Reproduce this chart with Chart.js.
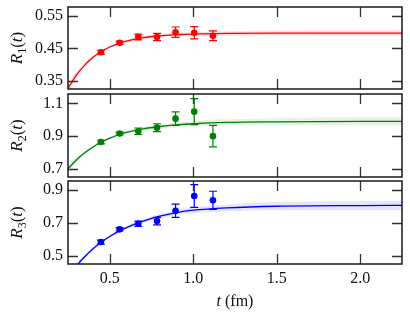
<!DOCTYPE html>
<html>
<head>
<meta charset="utf-8">
<script src="https://cdn.jsdelivr.net/npm/chart.js@4/dist/chart.umd.min.js"></script>
<style>
    html, body { margin: 0; padding: 0; background: #fff; }
    #wrap { position: relative; width: 410px; height: 320px; }
    .panel { position: absolute; left: 0; width: 410px; }
</style>
</head>
<body>
<div id="wrap">
    <div class="panel" style="top:0;height:92px"><canvas id="c1"></canvas></div>
    <div class="panel" style="top:88px;height:92px"><canvas id="c2"></canvas></div>
    <div class="panel" style="top:175px;height:145px"><canvas id="c3"></canvas></div>
</div>
<script>
// lattice data points (t in fm)
var tData = [0.447, 0.559, 0.671, 0.783, 0.894, 1.006, 1.118];
var r1 = [0.438, 0.467, 0.485, 0.485, 0.500, 0.498, 0.489];
var r1Err = [0.006, 0.005, 0.009, 0.011, 0.016, 0.019, 0.015];
var r2 = [0.863, 0.915, 0.929, 0.951, 1.006, 1.049, 0.899];
var r2Err = [0.011, 0.009, 0.020, 0.024, 0.041, 0.080, 0.066];
var r3 = [0.585, 0.662, 0.696, 0.712, 0.775, 0.864, 0.838];
var r3Err = [0.012, 0.010, 0.016, 0.023, 0.040, 0.069, 0.055];

// fit curves and half-width of the error bands
var tFit = [0.25, 0.30, 0.35, 0.40, 0.45, 0.50, 0.55, 0.60, 0.70, 0.80, 0.90, 1.00, 1.20, 1.50, 2.00, 2.25];
var r1Fit = [0.326, 0.367, 0.398, 0.422, 0.440, 0.454, 0.464, 0.472, 0.483, 0.489, 0.492, 0.494, 0.496, 0.497, 0.497, 0.497];
var r1Band = [0.014, 0.011, 0.008, 0.006, 0.005, 0.004, 0.004, 0.004, 0.005, 0.005, 0.006, 0.006, 0.007, 0.008, 0.009, 0.009];
var r2Fit = [0.700, 0.753, 0.797, 0.833, 0.863, 0.887, 0.906, 0.922, 0.944, 0.958, 0.968, 0.975, 0.983, 0.987, 0.990, 0.990];
var r2Band = [0.022, 0.016, 0.011, 0.008, 0.006, 0.006, 0.007, 0.008, 0.010, 0.012, 0.014, 0.016, 0.019, 0.022, 0.024, 0.025];
var r3Fit = [0.372, 0.440, 0.496, 0.544, 0.585, 0.619, 0.648, 0.673, 0.712, 0.742, 0.764, 0.778, 0.792, 0.802, 0.806, 0.807];
var r3Band = [0.022, 0.017, 0.012, 0.009, 0.007, 0.008, 0.009, 0.010, 0.012, 0.014, 0.016, 0.018, 0.021, 0.025, 0.028, 0.029];

var xTicks = [0.5, 1.0, 1.5, 2.0];
var xLabels = ["0.5", "1.0", "1.5", "2.0"];
var y1Ticks = [0.35, 0.45, 0.55], y1Labels = ["0.35", "0.45", "0.55"];
var y2Ticks = [0.7, 0.9, 1.1], y2Labels = ["0.7", "0.9", "1.1"];
var y3Ticks = [0.5, 0.7, 0.9], y3Labels = ["0.5", "0.7", "0.9"];

var SERIF = "'Liberation Serif', 'Times New Roman', serif";

function pts(xs, ys) {
    return xs.map(function (x, i) { return { x: x, y: ys[i] }; });
}
function shifted(ys, d, sign) {
    return ys.map(function (v, i) { return v + sign * d[i]; });
}

// inward tick marks, frame, error bars and axis titles
var decor = {
    id: "decor",
    afterDatasetsDraw: function (chart) {
        var o = chart.options.plugins.decor;
        var ctx = chart.ctx, a = chart.chartArea;
        var xs = chart.scales.x, ys = chart.scales.y;
        ctx.save();
        ctx.beginPath();
        ctx.rect(a.left, a.top, a.right - a.left, a.bottom - a.top);
        ctx.clip();
        ctx.strokeStyle = o.color;
        ctx.lineWidth = 1.2;
        o.ys.forEach(function (v, i) {
            var px = xs.getPixelForValue(o.xs[i]);
            var lo = ys.getPixelForValue(v - o.err[i]);
            var hi = ys.getPixelForValue(v + o.err[i]);
            ctx.beginPath();
            ctx.moveTo(px, lo); ctx.lineTo(px, hi);
            ctx.moveTo(px - 4, lo); ctx.lineTo(px + 4, lo);
            ctx.moveTo(px - 4, hi); ctx.lineTo(px + 4, hi);
            ctx.stroke();
        });
        ctx.restore();
    },
    afterDraw: function (chart) {
        var o = chart.options.plugins.decor;
        var ctx = chart.ctx, a = chart.chartArea;
        var xs = chart.scales.x, ys = chart.scales.y;
        ctx.save();
        ctx.strokeStyle = "#333";
        ctx.lineWidth = 1.3;
        ctx.beginPath();
        xTicks.forEach(function (v) {
            var px = Math.round(xs.getPixelForValue(v)) + 0.5;
            ctx.moveTo(px, a.top); ctx.lineTo(px, a.top + 10);
            ctx.moveTo(px, a.bottom); ctx.lineTo(px, a.bottom - 10);
        });
        o.yTicks.forEach(function (v) {
            var py = Math.round(ys.getPixelForValue(v)) + 0.5;
            ctx.moveTo(a.left, py); ctx.lineTo(a.left + 10, py);
            ctx.moveTo(a.right, py); ctx.lineTo(a.right - 10, py);
        });
        ctx.stroke();
        ctx.strokeStyle = "#1a1a1a";
        ctx.lineWidth = 1.5;
        ctx.strokeRect(a.left, a.top, a.right - a.left, a.bottom - a.top);

        // y title: R_n(t)
        ctx.fillStyle = "#111";
        ctx.translate(16, (a.top + a.bottom) / 2);
        ctx.rotate(-Math.PI / 2);
        var parts = [
            ["R", "italic 17px " + SERIF, 0],
            [o.sub, "12px " + SERIF, 4],
            ["(", "17px " + SERIF, 0],
            ["t", "italic 17px " + SERIF, 0],
            [")", "17px " + SERIF, 0]
        ];
        var w = 0;
        parts.forEach(function (p) { ctx.font = p[1]; w += ctx.measureText(p[0]).width; });
        var x = -w / 2;
        ctx.textBaseline = "alphabetic";
        parts.forEach(function (p) {
            ctx.font = p[1];
            ctx.fillText(p[0], x, 6 + p[2]);
            x += ctx.measureText(p[0]).width;
        });
        ctx.restore();

        if (o.xTitle) {
            ctx.save();
            ctx.fillStyle = "#111";
            ctx.textBaseline = "middle";
            var ty = a.bottom + 38;
            ctx.font = "italic 16px " + SERIF;
            var w1 = ctx.measureText("t").width;
            ctx.font = "16px " + SERIF;
            var w2 = ctx.measureText(" (fm)").width;
            var x0 = (a.left + a.right) / 2 - (w1 + w2) / 2;
            ctx.font = "italic 16px " + SERIF;
            ctx.fillText("t", x0, ty);
            ctx.font = "16px " + SERIF;
            ctx.fillText(" (fm)", x0 + w1, ty);
            ctx.restore();
        }
    }
};

function makePanel(id, cfg) {
    var canvas = document.getElementById(id);
    var ctx = canvas.getContext("2d");
    var upper = shifted(cfg.fit, cfg.band, 1);
    var lower = shifted(cfg.fit, cfg.band, -1);
    return new Chart(ctx, {
        type: "scatter",
        data: {
            datasets: [
                { data: pts(tData, cfg.data), showLine: false, pointRadius: 3.3, pointHoverRadius: 3.3,
                  backgroundColor: cfg.color, borderColor: cfg.color, borderWidth: 0 },
                { data: pts(tFit, cfg.fit), showLine: true, pointRadius: 0, borderColor: cfg.color,
                  borderWidth: 1.3, cubicInterpolationMode: "monotone", fill: false },
                { data: pts(tFit, lower), showLine: true, pointRadius: 0, borderWidth: 0,
                  borderColor: "rgba(0,0,0,0)", cubicInterpolationMode: "monotone", fill: false },
                { data: pts(tFit, upper), showLine: true, pointRadius: 0, borderWidth: 0,
                  borderColor: "rgba(0,0,0,0)", cubicInterpolationMode: "monotone",
                  fill: "-1", backgroundColor: cfg.bandColor }
            ]
        },
        options: {
            responsive: true,
            maintainAspectRatio: false,
            animation: false,
            events: [],
            layout: {
                autoPadding: false,
                padding: { top: cfg.padTop, bottom: cfg.padBottom, right: 8, left: 0 }
            },
            scales: {
                x: {
                    type: "linear",
                    min: 0.25,
                    max: 2.25,
                    grid: { display: false, drawTicks: false },
                    border: { display: false },
                    afterBuildTicks: function (s) {
                        s.ticks = xTicks.map(function (v) { return { value: v }; });
                    },
                    afterFit: function (s) {
                        s.height = cfg.xHeight;
                        s.paddingLeft = 0; s.paddingRight = 0;
                    },
                    ticks: {
                        display: cfg.showX,
                        padding: 5,
                        color: "#111",
                        font: { family: SERIF, size: 16 },
                        maxRotation: 0,
                        callback: function (v, i) { return xLabels[i]; }
                    }
                },
                y: {
                    type: "linear",
                    min: cfg.ymin,
                    max: cfg.ymax,
                    grid: { display: false, drawTicks: false },
                    border: { display: false },
                    afterBuildTicks: function (s) {
                        s.ticks = cfg.yTicks.map(function (v) { return { value: v }; });
                    },
                    afterFit: function (s) {
                        s.width = 68;
                        s.paddingTop = 0; s.paddingBottom = 0;
                    },
                    ticks: {
                        padding: 5,
                        color: "#111",
                        font: { family: SERIF, size: 16 },
                        callback: function (v, i) { return cfg.yLabels[i]; }
                    }
                }
            },
            plugins: {
                legend: { display: false },
                tooltip: { enabled: false },
                decor: {
                    xs: tData, ys: cfg.data, err: cfg.err, color: cfg.color,
                    yTicks: cfg.yTicks, sub: cfg.sub, xTitle: cfg.showX
                }
            }
        },
        plugins: [decor]
    });
}

makePanel("c1", {
    data: r1, err: r1Err, fit: r1Fit, band: r1Band, color: "#ff0000", bandColor: "rgba(255,0,0,0.12)",
    ymin: 0.324, ymax: 0.578, yTicks: y1Ticks, yLabels: y1Labels, sub: "1",
    padTop: 7, padBottom: 3, xHeight: 0, showX: false
});
makePanel("c2", {
    data: r2, err: r2Err, fit: r2Fit, band: r2Band, color: "#008000", bandColor: "rgba(0,128,0,0.10)",
    ymin: 0.649, ymax: 1.157, yTicks: y2Ticks, yLabels: y2Labels, sub: "2",
    padTop: 6, padBottom: 3, xHeight: 0, showX: false
});
makePanel("c3", {
    data: r3, err: r3Err, fit: r3Fit, band: r3Band, color: "#0000ff", bandColor: "rgba(0,0,255,0.10)",
    ymin: 0.452, ymax: 0.955, yTicks: y3Ticks, yLabels: y3Labels, sub: "3",
    padTop: 6, padBottom: 0, xHeight: 56, showX: true
});
</script>
</body>
</html>
